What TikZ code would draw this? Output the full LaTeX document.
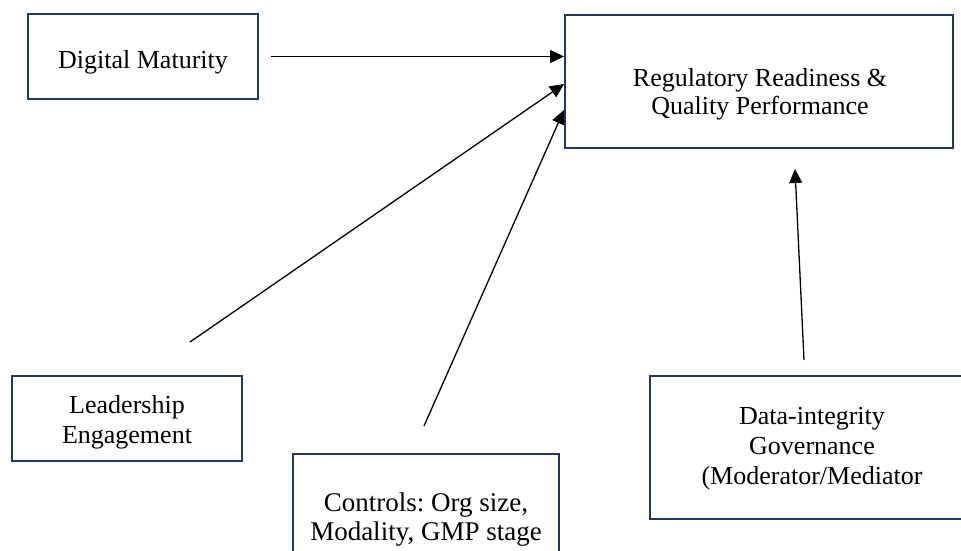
\documentclass[tikz,border=0pt]{standalone}
\usepackage{fontspec}
\setmainfont{Liberation Serif}
\usetikzlibrary{calc,arrows.meta,positioning}
\definecolor{boxNavy}{RGB}{32,56,100}
\frenchspacing

\begin{document}
\begin{tikzpicture}[x=1pt,y=-1pt,
  box/.style={draw=boxNavy, line width=2pt, inner sep=0pt},
  boxtext/.style={align=center, inner sep=0pt, font=\fontsize{26}{30}\selectfont},
  link/.style={line width=1.3pt, -{Triangle[length=14pt,width=13pt]}}]
\clip (0,0) rectangle (961,551);

% boxes
\node[box, minimum width=230pt, minimum height=85pt] (dm) at (143,56.5) {};
\node[box, minimum width=388pt, minimum height=133pt] (rr) at (759,81.5) {};
\node[box, minimum width=230pt, minimum height=85pt] (le) at (127,418.5) {};
\node[box, minimum width=266pt, minimum height=132pt] (ctrl) at (426,520) {};
\node[box, minimum width=324pt, minimum height=143pt] (dig) at (812,447.5) {};

% texts
\node[boxtext, anchor=base] (dmText) at (143,68) {Digital Maturity};
\node[boxtext, font=\fontsize{26}{28}\selectfont] (rrText) at (760,94) {Regulatory Readiness \&\\Quality Performance};
\node[boxtext] (leText) at (127,422) {Leadership\\Engagement};
\node[boxtext, font=\fontsize{27}{29}\selectfont] (ctrlText) at (426,520) {Controls: Org size,\\Modality, GMP stage};
\node[boxtext] (digText) at (812,449) {Data-integrity\\Governance\\(Moderator/Mediator};

% links
\coordinate (leTail) at (190,342);
\coordinate (ctrlTail) at (424,426);
\coordinate (digTail) at (804,360);
\draw[link, shorten <=12pt] (dm.east) -- (dm.east -| rr.west);
\draw[link] (leTail) -- ($(rr.north west)+(0,70)$);
\draw[link] (ctrlTail) -- ($(rr.north west)+(0,96)$);
\draw[link] (digTail) -- ($(rr.south)+(36,20)$);
\end{tikzpicture}
\end{document}
